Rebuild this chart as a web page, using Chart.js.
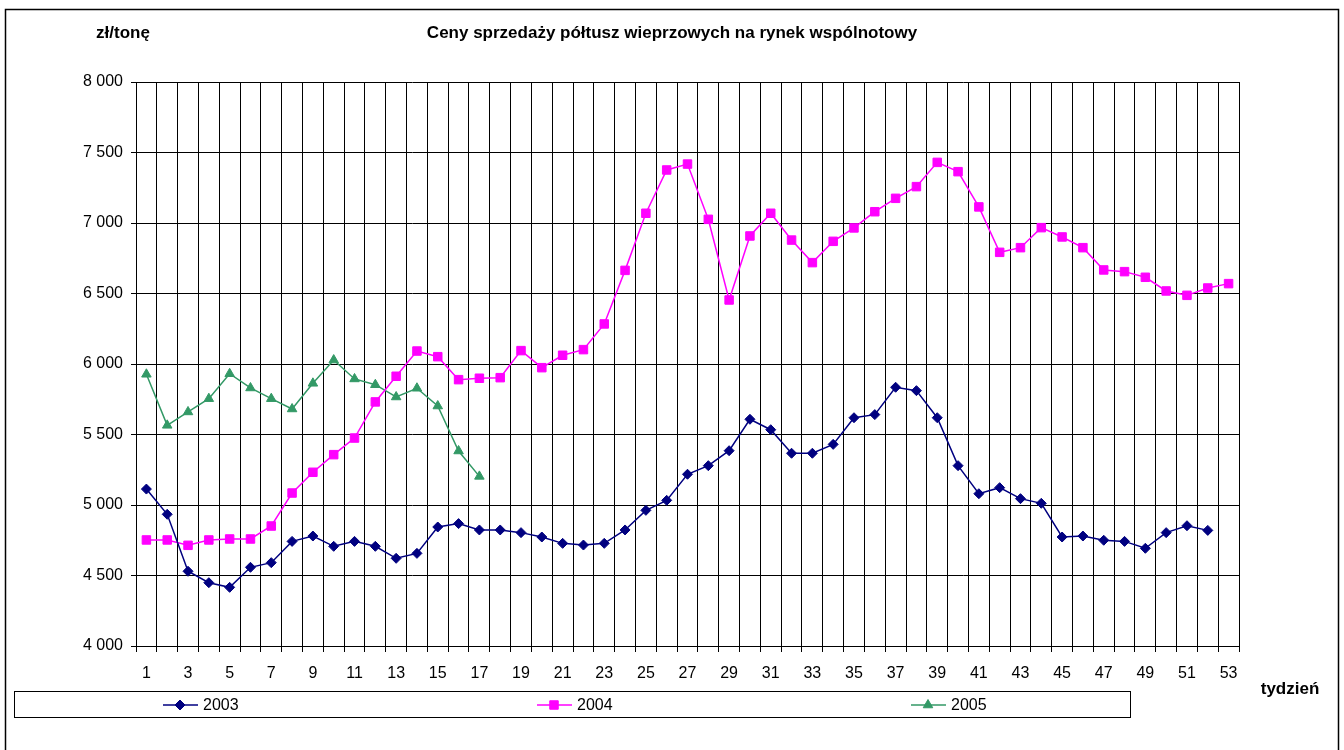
<!DOCTYPE html>
<html>
<head>
<meta charset="utf-8">
<script src="https://cdn.jsdelivr.net/npm/chart.js@4.4.1/dist/chart.umd.min.js"></script>
<style>
  body { margin: 0; background: #fff; }
</style>
</head>
<body>
<canvas id="pigChart" width="1344" height="750"></canvas>
<script>
// week numbers on the x axis
const weeks = Array.from({ length: 53 }, (_, i) => String(i + 1));

// prices in zł/tonę
const prices2003 = [
  5113, 4934, 4530, 4449, 4416, 4558, 4591, 4742, 4780, 4707,
  4742, 4707, 4622, 4657, 4844, 4868, 4823, 4823, 4804, 4773,
  4728, 4716, 4728, 4823, 4962, 5033, 5218, 5279, 5385, 5608,
  5534, 5367, 5367, 5430, 5619, 5641, 5835, 5811, 5619, 5279,
  5080, 5123, 5045, 5012, 4773, 4780, 4750, 4742, 4693, 4804,
  4853, 4820,
];
const prices2004 = [
  4752, 4752, 4714, 4752, 4759, 4759, 4851, 5085, 5232, 5357,
  5475, 5731, 5913, 6092, 6052, 5889, 5899, 5903, 6095, 5974,
  6062, 6102, 6284, 6664, 7069, 7376, 7418, 7026, 6454, 6908,
  7069, 6879, 6719, 6870, 6965, 7080, 7175, 7258, 7430, 7364,
  7114, 6792, 6825, 6967, 6901, 6825, 6667, 6655, 6615, 6518,
  6487, 6539, 6570,
];
const prices2005 = [
  5927, 5565, 5660, 5754, 5931, 5830, 5754, 5681, 5863, 6028,
  5894, 5853, 5766, 5828, 5702, 5383, 5203,
];

const title = "Ceny sprzedaży półtusz wieprzowych na rynek wspólnotowy";
const unitLabel = "zł/tonę";
const xAxisLabel = "tydzień";

const fontFamily = "'Liberation Sans', Arial, sans-serif";

// "8000" -> "8 000"
const fmt = (v) => String(v).replace(/\B(?=(\d{3})+(?!\d))/g, " ");

// title, unit label, outer frame and the boxed legend under the axis
const extras = {
  id: "extras",
  afterDraw(chart) {
    const ctx = chart.ctx;
    ctx.save();

    ctx.strokeStyle = "#000";
    ctx.lineWidth = 1.5;
    ctx.strokeRect(5.5, 9.5, 1333, 760);

    ctx.fillStyle = "#000";
    ctx.font = "bold 17px " + fontFamily;
    ctx.textBaseline = "middle";
    ctx.textAlign = "center";
    ctx.fillText(title, 672, 33);
    ctx.fillText(unitLabel, 123, 33);
    ctx.fillText(xAxisLabel, 1290, 689);

    // legend
    ctx.lineWidth = 1;
    ctx.strokeStyle = "#000";
    ctx.strokeRect(14.5, 691.5, 1116, 26);
    ctx.font = "16px " + fontFamily;
    ctx.textAlign = "left";
    chart.data.datasets.forEach((ds, i) => {
      const cx = 180 + i * 374;
      const cy = 705;
      ctx.strokeStyle = ds.borderColor;
      ctx.lineWidth = 1.5;
      ctx.beginPath();
      ctx.moveTo(cx - 17, cy);
      ctx.lineTo(cx + 18, cy);
      ctx.stroke();
      ctx.fillStyle = ds.pointBackgroundColor;
      ctx.strokeStyle = ds.pointBorderColor;
      ctx.lineWidth = 1;
      Chart.helpers.drawPoint(ctx, {
        pointStyle: ds.pointStyle,
        radius: ds.pointRadius,
        rotation: 0,
        borderWidth: 1,
      }, cx, cy);
      ctx.fillStyle = "#000";
      ctx.fillText(ds.label, cx + 23, cy + 1);
    });

    ctx.restore();
  },
};

const series = (label, data, color, style, radius) => ({
  label,
  data,
  borderColor: color,
  backgroundColor: color,
  pointBackgroundColor: color,
  pointBorderColor: color,
  pointStyle: style,
  pointRadius: radius,
  pointBorderWidth: 1,
  borderWidth: 1.5,
  tension: 0,
  fill: false,
});

const ctx = document.getElementById("pigChart").getContext("2d");
new Chart(ctx, {
  type: "line",
  data: {
    labels: weeks,
    datasets: [
      series("2003", prices2003, "#000080", "rectRot", 5),
      series("2004", prices2004, "#ff00ff", "rect", 6),
      series("2005", prices2005, "#339966", "triangle", 5.5),
    ],
  },
  plugins: [extras],
  options: {
    responsive: false,
    animation: false,
    devicePixelRatio: 1,
    layout: { padding: { left: 0, top: 82, right: 105, bottom: 0 } },
    plugins: {
      legend: { display: false },
      title: { display: false },
      tooltip: { enabled: false },
    },
    scales: {
      x: {
        offset: true,
        afterFit: (scale) => { scale.height = 104; },
        grid: {
          offset: true,
          color: "#000",
          lineWidth: 1,
          tickLength: 6,
          tickColor: "#000",
        },
        border: { color: "#000", width: 1 },
        ticks: {
          autoSkip: false,
          maxRotation: 0,
          padding: 12,
          color: "#000",
          font: { family: fontFamily, size: 16 },
          callback: function (v, i) {
            return i % 2 === 0 ? this.getLabelForValue(v) : "";
          },
        },
      },
      y: {
        min: 4000,
        max: 8000,
        afterFit: (scale) => { scale.width = 136; },
        grid: {
          color: "#000",
          lineWidth: 1,
          tickLength: 5,
          tickColor: "#000",
        },
        border: { color: "#000", width: 1 },
        ticks: {
          stepSize: 500,
          padding: 8,
          color: "#000",
          font: { family: fontFamily, size: 16 },
          callback: (v) => fmt(v),
        },
      },
    },
  },
});
</script>
</body>
</html>
